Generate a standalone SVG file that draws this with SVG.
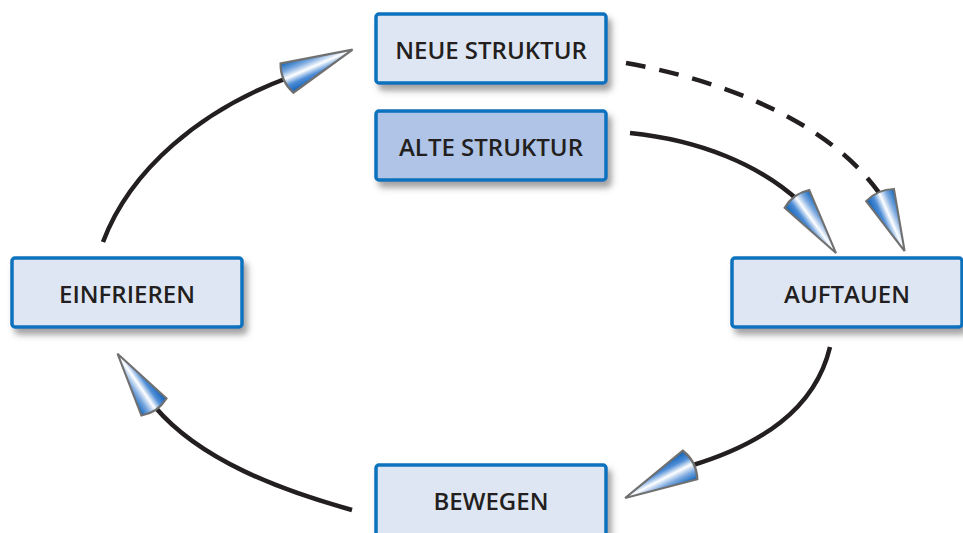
<svg xmlns="http://www.w3.org/2000/svg" width="963" height="533" viewBox="0 0 963 533">
<style>
.box{fill:#dfe6f3;stroke:#0b72bd;stroke-width:3.5;filter:url(#sh)}
.alt{fill:#afc4e6}
.lbl{font-family:"Open Sans","Liberation Sans",sans-serif;font-weight:600;font-size:24px;fill:#231f20;text-anchor:middle}
.ln{fill:none;stroke:#231f20;stroke-width:4.5}
.dash{stroke-dasharray:20 14}
</style>
<defs>
<filter id="sh" x="-10%" y="-20%" width="130%" height="150%">
<feDropShadow dx="4" dy="6" stdDeviation="3" flood-color="#555" flood-opacity="0.55"/>
</filter>
<linearGradient id="cone" x1="0" y1="0" x2="0" y2="1">
<stop offset="0" stop-color="#0a62ba"/>
<stop offset="0.28" stop-color="#7eaae0"/>
<stop offset="0.5" stop-color="#ffffff"/>
<stop offset="0.72" stop-color="#4f8dd6"/>
<stop offset="1" stop-color="#0a5eb5"/>
</linearGradient>
<path id="ah" d="M0,-16 Q-7,0 0,16 L68,0 Z" fill="url(#cone)" stroke="#707070" stroke-width="2.2" stroke-linejoin="miter"/>
</defs>
<g id="connectors">
<path class="ln" d="M103,242 C130,170 200,110 290,77"/>
<use href="#ah" transform="translate(287,78) rotate(-23.4) scale(1.05,1)"/>
<path class="ln" d="M630,133 C700,140 760,165 800,202"/>
<use href="#ah" transform="translate(797,199) rotate(54.2) scale(0.98,0.95)"/>
<path class="ln dash" d="M626,63 C720,80 830,120 882,197"/>
<use href="#ah" transform="translate(880,195) rotate(66.3) scale(0.9,0.95)"/>
<path class="ln" d="M830,347 C815,410 760,445 690,466"/>
<use href="#ah" transform="translate(690,465) rotate(153) scale(1.07,1)"/>
<path class="ln" d="M352,510 C280,490 200,460 155,407"/>
<use href="#ah" transform="translate(154,407) rotate(-124.4) scale(0.95,0.95)"/>
</g>
<g id="neue"><rect class="box" x="376" y="14" width="230" height="69" rx="3"/><text class="lbl" x="491" y="59">NEUE STRUKTUR</text></g>
<g id="alte"><rect class="box alt" x="376" y="111" width="230" height="69" rx="3"/><text class="lbl" x="491" y="156">ALTE STRUKTUR</text></g>
<g id="einfrieren"><rect class="box" x="12" y="258" width="230" height="69" rx="3"/><text class="lbl" x="127" y="303">EINFRIEREN</text></g>
<g id="auftauen"><rect class="box" x="732" y="258" width="230" height="69" rx="3"/><text class="lbl" x="847" y="303">AUFTAUEN</text></g>
<g id="bewegen"><rect class="box" x="376" y="465" width="230" height="80" rx="3"/><text class="lbl" x="491" y="510">BEWEGEN</text></g>
</svg>
